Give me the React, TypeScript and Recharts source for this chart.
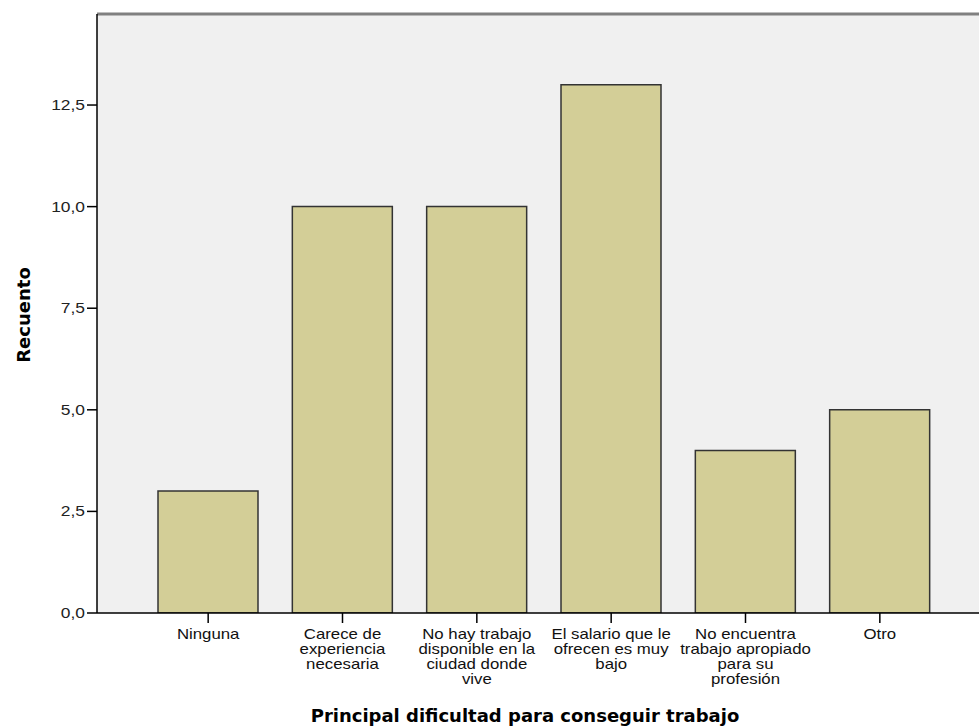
import { BarChart, Bar, XAxis, YAxis, CartesianGrid, ReferenceLine } from "recharts";

const categories = [
  "Ninguna",
  "Carece de\nexperiencia\nnecesaria",
  "No hay trabajo\ndisponible en la\nciudad donde\nvive",
  "El salario que le\nofrecen es muy\nbajo",
  "No encuentra\ntrabajo apropiado\npara su\nprofesión",
  "Otro",
];
const counts = [3, 10, 10, 13, 4, 5];
const yTicks = [0, 2.5, 5, 7.5, 10, 12.5];
const yMax = 14.74;

const data = categories.map((c, i) => ({ name: c, count: counts[i] }));

const font = "'DejaVu Sans', Arial, sans-serif";
const tickFont = "'Liberation Sans', Arial, sans-serif";

// the reference's labels are a little wider than plain Arial
function CategoryTick({ x, y, payload }: any) {
  const lines = String(payload.value).split("\n");
  return (
    <g>
      {lines.map((l, i) => (
        <text
          key={i}
          transform={`translate(${x},${y + 14 + i * 15}) scale(1.2,1)`}
          textAnchor="middle"
          fontFamily={tickFont}
          fontSize={14}
          fill="#111"
        >
          {l}
        </text>
      ))}
    </g>
  );
}

function ValueTick({ x, y, payload }: any) {
  return (
    <text
      transform={`translate(${x},${y + 5}) scale(1.2,1)`}
      textAnchor="end"
      fontFamily={tickFont}
      fontSize={14.5}
      fill="#222"
    >
      {Number(payload.value).toFixed(1).replace(".", ",")}
    </text>
  );
}

export default function App() {
  return (
    <div style={{ position: "absolute", left: 0, top: 0, width: 979, height: 727, background: "#fff" }}>
      <BarChart
        width={979}
        height={727}
        data={data}
        margin={{ top: 14, right: 0, left: 0, bottom: 0 }}
        barCategoryGap={0}
      >
        <CartesianGrid fill="#F0F0F0" horizontal={false} vertical={false} />
        <XAxis
          dataKey="name"
          height={114}
          padding={{ left: 44, right: 32 }}
          tickSize={10}
          interval={0}
          axisLine={{ stroke: "#000", strokeWidth: 1.5 }}
          tickLine={{ stroke: "#000", strokeWidth: 1.5 }}
          tick={<CategoryTick />}
          label={{
            content: () => (
              <text
                x={525}
                y={722}
                textAnchor="middle"
                fontFamily={font}
                fontSize={18}
                fontWeight="bold"
                fill="#000"
              >
                Principal dificultad para conseguir trabajo
              </text>
            ),
          }}
        />
        <YAxis
          width={97}
          domain={[0, yMax]}
          ticks={yTicks}
          tickSize={10}
          allowDataOverflow
          axisLine={{ stroke: "#000", strokeWidth: 1.5 }}
          tickLine={{ stroke: "#000", strokeWidth: 1.5 }}
          tick={<ValueTick />}
          label={{
            content: () => (
              <text
                x={30}
                y={315}
                textAnchor="middle"
                transform="rotate(-90 30 315)"
                fontFamily={font}
                fontSize={18}
                fontWeight="bold"
                fill="#000"
              >
                Recuento
              </text>
            ),
          }}
        />
        <ReferenceLine y={yMax} stroke="#808080" strokeWidth={3} />
        <Bar
          dataKey="count"
          fill="#D3CE97"
          stroke="#333"
          strokeWidth={1.5}
          barSize={100}
          isAnimationActive={false}
        />
      </BarChart>
    </div>
  );
}
